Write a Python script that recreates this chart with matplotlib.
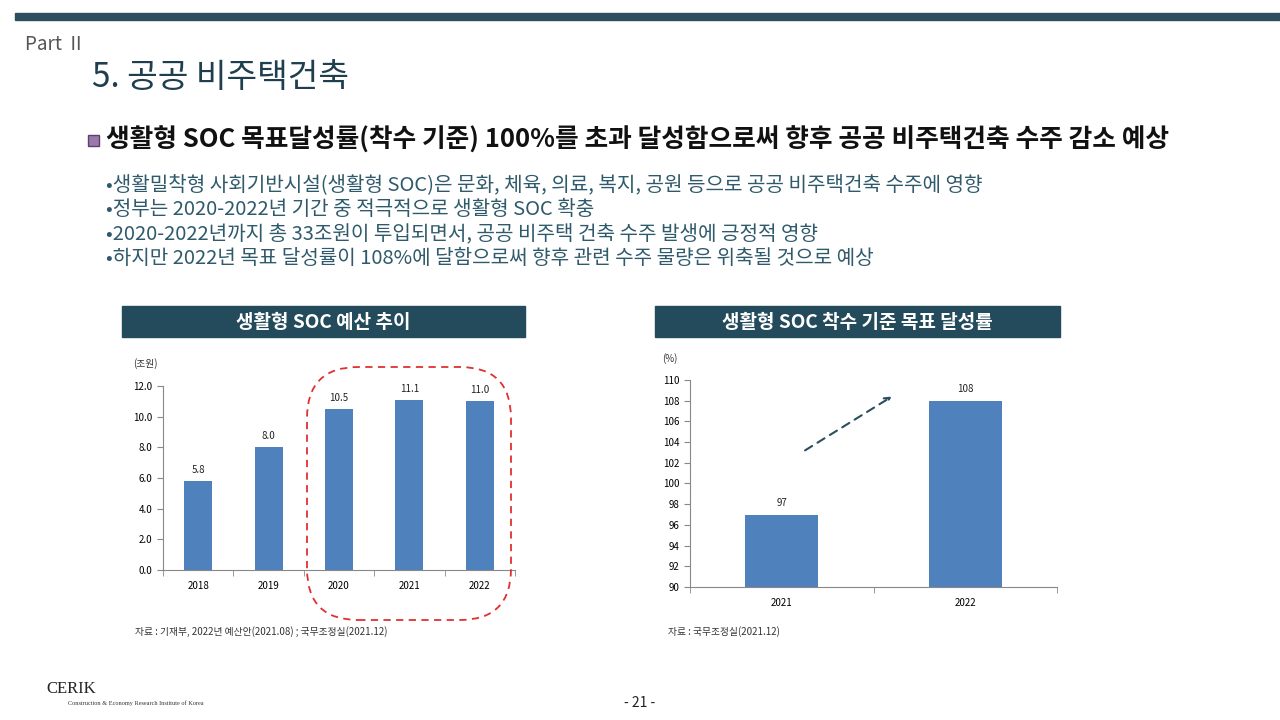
import matplotlib.pyplot as plt
from matplotlib.patches import FancyBboxPatch, Rectangle
import numpy as np

plt.rcParams['font.family'] = ['Noto Sans CJK KR', 'DejaVu Sans']

# data
years_budget = ['2018', '2019', '2020', '2021', '2022']
budget = [5.8, 8.0, 10.5, 11.1, 11.0]
years_rate = ['2021', '2022']
rate = [97, 108]

bullets = [
    '•생활밀착형 사회기반시설(생활형 SOC)은 문화, 체육, 의료, 복지, 공원 등으로 공공 비주택건축 수주에 영향',
    '•정부는 2020-2022년 기간 중 적극적으로 생활형 SOC 확충',
    '•2020-2022년까지 총 33조원이 투입되면서, 공공 비주택 건축 수주 발생에 긍정적 영향',
    '•하지만 2022년 목표 달성률이 108%에 달함으로써 향후 관련 수주 물량은 위축될 것으로 예상',
]

W, H = 1280, 720
BAR = '#4f81bd'
DARK = '#234b5c'


def fx(x):
    return x / W


def fy(y):
    return 1 - y / H


def px_axes(fig, x0, y0, x1, y1):
    # pixel box (top-left origin) -> axes
    return fig.add_axes([fx(x0), fy(y1), (x1 - x0) / W, (y1 - y0) / H])


fig = plt.figure(figsize=(12.8, 7.2), dpi=100)

# top bar
fig.patches.append(Rectangle((fx(15), fy(20)), 1 - fx(15), 7 / H, transform=fig.transFigure,
                             color='#2b4f5f', zorder=0))
fig.text(fx(25), fy(44), 'Part  II', fontsize=13.5, color='#555555', va='center')
fig.text(fx(92), fy(77), '5. 공공 비주택건축', fontsize=24, color='#1f3f4f', va='center')

# headline
fig.patches.append(Rectangle((fx(88), fy(146)), 11 / W, 11 / H, transform=fig.transFigure,
                             facecolor='#9a7aab', edgecolor='#5e4070', lw=1))
fig.text(fx(106), fy(140), '생활형 SOC 목표달성률(착수 기준) 100%를 초과 달성함으로써 향후 공공 비주택건축 수주 감소 예상',
         fontsize=18.5, fontweight='bold', color='#111111', va='center')
for i, line in enumerate(bullets):
    fig.text(fx(106), fy(185 + 24.5 * i), line, fontsize=14.5, color='#2f5a6b', va='center')

# chart banners
for x0, x1, label in [(122, 525, '생활형 SOC 예산 추이'), (655, 1060, '생활형 SOC 착수 기준 목표 달성률')]:
    fig.patches.append(Rectangle((fx(x0), fy(337)), (x1 - x0) / W, 31 / H,
                                 transform=fig.transFigure, color=DARK, zorder=0))
    fig.text(fx((x0 + x1) / 2), fy(322), label, fontsize=13.7, fontweight='bold', color='white',
             ha='center', va='center')


def style_axes(ax, n):
    for s in ['top', 'right']:
        ax.spines[s].set_visible(False)
    for s in ['left', 'bottom']:
        ax.spines[s].set_color('#888888')
        ax.spines[s].set_linewidth(0.8)
    ax.set_xlim(-0.5, n - 0.5)
    ax.set_xticks(range(n))
    ax.set_xticks(np.arange(-0.5, n, 1.0), minor=True)
    ax.tick_params(axis='x', which='major', length=0, labelsize=7, pad=8)
    ax.tick_params(axis='x', which='minor', length=4, color='#888888')
    ax.tick_params(axis='y', length=4, color='#888888', labelsize=7)


# left chart
ax1 = px_axes(fig, 163, 386, 515, 570)
ax1.bar(range(len(budget)), budget, width=0.4, color=BAR, zorder=2)
ax1.set_ylim(0, 12)
ax1.set_yticks(np.arange(0, 12.1, 2))
ax1.set_yticklabels([f'{v:.1f}' for v in np.arange(0, 12.1, 2)])
ax1.set_xticklabels(years_budget)
style_axes(ax1, len(budget))
for i, v in enumerate(budget):
    ax1.text(i, v + 0.4, f'{v:.1f}', ha='center', va='bottom', fontsize=7, color='#222222')
fig.text(fx(133), fy(364), '(조원)', fontsize=7, color='#333333', va='center')
fig.text(fx(135), fy(632), '자료 : 기재부, 2022년 예산안(2021.08) ; 국무조정실(2021.12)', fontsize=7,
         color='#333333', va='center')

# red dashed highlight
fig.patches.append(FancyBboxPatch((fx(307), fy(620)), (511 - 307) / W, (620 - 367) / H,
                                  boxstyle='round,pad=0,rounding_size=0.04',
                                  transform=fig.transFigure, fill=False, edgecolor='#e03030',
                                  linestyle=(0, (4, 3)), lw=1.3, mutation_aspect=1.78))

# right chart
ax2 = px_axes(fig, 690, 380, 1057, 587)
ax2.bar(range(len(rate)), rate, width=0.4, color=BAR, zorder=2)
ax2.set_ylim(90, 110)
ax2.set_yticks(range(90, 111, 2))
ax2.set_xticklabels(years_rate)
style_axes(ax2, len(rate))
for i, v in enumerate(rate):
    ax2.text(i, v + 0.6, f'{v}', ha='center', va='bottom', fontsize=7, color='#222222')
fig.text(fx(662), fy(359), '(%)', fontsize=7, color='#333333', va='center')
fig.text(fx(668), fy(632), '자료 : 국무조정실(2021.12)', fontsize=7, color='#333333', va='center')

# dashed arrow
ax2.annotate('', xy=(0.60, 108.4), xytext=(0.127, 103.2), xycoords='data',
             arrowprops=dict(arrowstyle='->', color='#2b4f5f', lw=1.5, linestyle=(0, (4, 3)),
                             shrinkA=0, shrinkB=0))

# footer
fig.text(fx(46), fy(689), 'CERIK', fontsize=12, family='Liberation Serif', color='#222222', va='center')
fig.text(fx(68), fy(703), 'Construction & Economy Research Institute of Korea', fontsize=4.5,
         family='Liberation Serif', color='#333333', va='center')
fig.text(fx(640), fy(703), '- 21 -', fontsize=10, color='#222222', ha='center', va='center')

fig.savefig('out.png', dpi=100)
